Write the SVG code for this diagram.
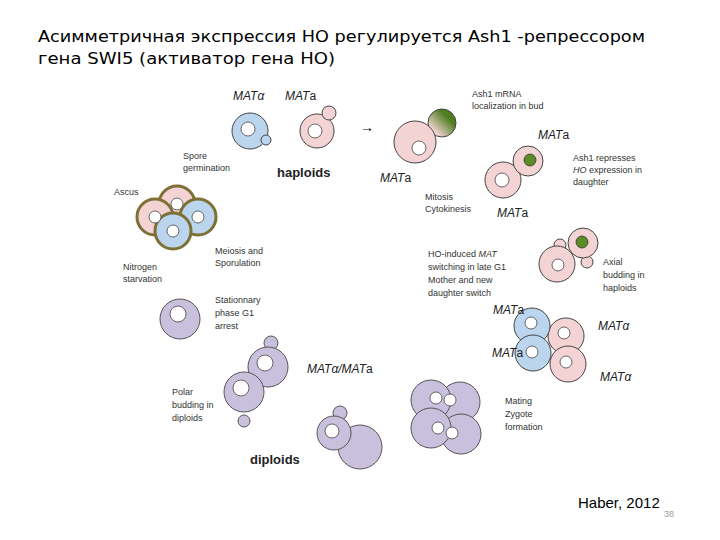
<svg xmlns="http://www.w3.org/2000/svg" width="720" height="540" viewBox="0 0 720 540">
<defs>
<style>
.t{font-family:"DejaVu Sans",Verdana,sans-serif;font-size:15px;fill:#000}
.s{font-family:"Liberation Sans",sans-serif;font-size:9px;fill:#333}
.m{font-family:"Liberation Sans",sans-serif;font-size:12px;font-style:italic;fill:#222}
.b{font-family:"Liberation Sans",sans-serif;font-size:13px;font-weight:bold;fill:#222}
.bl{fill:#bcd5ee;stroke:#444;stroke-width:1}
.pk{fill:#f4d3d5;stroke:#444;stroke-width:1}
.lv{fill:#c8c0dd;stroke:#555;stroke-width:1}
.nu{fill:#fff;stroke:#444;stroke-width:0.8}
.gn{fill:#5b8c25;stroke:#333;stroke-width:0.8}
.as{stroke:#7d7035;stroke-width:3}
</style>
<linearGradient id="g" x1="1" y1="0" x2="0" y2="1"><stop offset="0.3" stop-color="#4f7f1e"/><stop offset="0.8" stop-color="#f4d3d5"/></linearGradient>
</defs>
<rect width="720" height="540" fill="#fff"/>
<text class="t" x="38" y="42" textLength="607" lengthAdjust="spacingAndGlyphs">Асимметричная экспрессия HO регулируется Ash1 -репрессором</text>
<text class="t" x="38" y="64" textLength="297" lengthAdjust="spacingAndGlyphs">гена SWI5 (активатор гена HO)</text>

<g id="haploids">
<circle class="bl" cx="250" cy="131" r="18"/><circle class="nu" cx="248" cy="129" r="7"/><circle class="bl" cx="266" cy="140" r="5"/>
<circle class="pk" cx="317" cy="131" r="17"/><circle class="nu" cx="315" cy="131" r="7"/><circle class="pk" cx="329" cy="113" r="7"/>
<text class="m" x="233" y="100">MATα</text><text class="m" x="285" y="100">MAT<tspan font-style="normal">a</tspan></text>
<text class="s" x="183" y="159">Spore</text><text class="s" x="183" y="171">germination</text>
<text class="b" x="277" y="177">haploids</text>
<text x="360" y="132" font-family="Liberation Sans,sans-serif" font-size="14">→</text>
</g>

<g id="ascus">
<circle class="pk as" cx="177" cy="204" r="18"/>
<circle class="pk as" cx="155" cy="217" r="18"/>
<circle class="bl as" cx="198" cy="217" r="18"/>
<circle class="bl as" cx="173" cy="231" r="18"/>
<circle class="nu" cx="177" cy="204" r="6"/><circle class="nu" cx="155" cy="217" r="6"/><circle class="nu" cx="198" cy="217" r="6"/><circle class="nu" cx="173" cy="231" r="6"/>
<text class="s" x="114" y="195">Ascus</text>
<text class="s" x="215" y="254">Meiosis and</text><text class="s" x="215" y="266">Sporulation</text>
<text class="s" x="123" y="270">Nitrogen</text><text class="s" x="123" y="282">starvation</text>
</g>

<g id="stationary">
<circle class="lv" cx="180" cy="319" r="20"/><circle class="nu" cx="178" cy="314" r="8"/>
<text class="s" x="215" y="303">Stationnary</text><text class="s" x="215" y="316">phase G1</text><text class="s" x="215" y="329">arrest</text>
</g>

<g id="polar">
<circle class="lv" cx="271" cy="343" r="7"/>
<circle class="lv" cx="244" cy="421" r="6"/>
<circle class="lv" cx="268" cy="367" r="20"/><circle class="nu" cx="265" cy="363" r="8"/>
<circle class="lv" cx="244" cy="392" r="20"/><circle class="nu" cx="241" cy="388" r="8"/>
<text class="m" x="307" y="373">MATα/MAT<tspan font-style="normal">a</tspan></text>
<text class="s" x="172" y="395">Polar</text><text class="s" x="172" y="408">budding in</text><text class="s" x="172" y="421">diploids</text>
</g>

<g id="diploids">
<circle class="lv" cx="340" cy="413" r="7"/>
<circle class="lv" cx="360" cy="447" r="22"/>
<circle class="lv" cx="334" cy="433" r="17"/><circle class="nu" cx="332" cy="431" r="7"/>
<text class="b" x="250" y="464">diploids</text>
</g>

<g id="zygotes">
<circle class="lv" cx="460" cy="402" r="20"/><circle class="lv" cx="431" cy="400" r="20"/>
<circle class="nu" cx="436" cy="398" r="6"/><circle class="nu" cx="450" cy="400" r="6"/>
<circle class="lv" cx="461" cy="434" r="20"/><circle class="lv" cx="431" cy="428" r="20"/>
<circle class="nu" cx="438" cy="428" r="6"/><circle class="nu" cx="452" cy="433" r="6"/>
<text class="s" x="505" y="404">Mating</text><text class="s" x="505" y="417">Zygote</text><text class="s" x="505" y="430">formation</text>
</g>

<g id="mating">
<circle class="pk" cx="566" cy="336" r="18"/><circle class="nu" cx="564" cy="333" r="6"/>
<circle class="pk" cx="568" cy="364" r="18"/><circle class="nu" cx="566" cy="362" r="6"/>
<circle class="bl" cx="532" cy="326" r="18"/><circle class="nu" cx="531" cy="323" r="6"/>
<circle class="bl" cx="533" cy="353" r="18"/><circle class="nu" cx="532" cy="352" r="6"/>
<text class="m" x="493" y="314">MAT<tspan font-style="normal">a</tspan></text>
<text class="m" x="598" y="330">MATα</text>
<text class="m" x="492" y="357">MAT<tspan font-style="normal">a</tspan></text>
<text class="m" x="600" y="381">MATα</text>
</g>

<g id="mitosis">
<circle cx="442" cy="123" r="14" fill="url(#g)" stroke="#444"/>
<circle class="pk" cx="415" cy="142" r="21"/><circle class="nu" cx="419" cy="148" r="7"/>
<text class="s" x="472" y="97">Ash1 mRNA</text><text class="s" x="472" y="109">localization in bud</text>
<text class="m" x="380" y="182">MAT<tspan font-style="normal">a</tspan></text>
<text class="s" x="425" y="200">Mitosis</text><text class="s" x="425" y="212">Cytokinesis</text>
</g>

<g id="repress">
<circle class="pk" cx="503" cy="180" r="18"/><circle class="nu" cx="502" cy="180" r="7"/>
<circle class="pk" cx="528" cy="161" r="15"/><circle class="gn" cx="530" cy="160" r="6"/>
<text class="m" x="538" y="139">MAT<tspan font-style="normal">a</tspan></text>
<text class="m" x="497" y="217">MAT<tspan font-style="normal">a</tspan></text>
<text class="s" x="573" y="161">Ash1 represses</text><text class="s" x="573" y="173"><tspan font-style="italic">HO</tspan> expression in</text><text class="s" x="573" y="185">daughter</text>
</g>

<g id="axial">
<circle class="pk" cx="560" cy="245" r="6"/>
<circle class="pk" cx="587" cy="262" r="6"/>
<circle class="pk" cx="583" cy="243" r="15"/><circle class="gn" cx="582" cy="242" r="6"/>
<circle class="pk" cx="557" cy="264" r="18"/><circle class="nu" cx="558" cy="265" r="6"/>
<text class="s" x="428" y="257">HO-induced <tspan font-style="italic">MAT</tspan></text><text class="s" x="428" y="270">switching in late G1</text><text class="s" x="428" y="283">Mother and new</text><text class="s" x="428" y="296">daughter switch</text>
<text class="s" x="603" y="265">Axial</text><text class="s" x="603" y="278">budding in</text><text class="s" x="603" y="291">haploids</text>
</g>

<text x="578" y="508" font-family="Liberation Sans,sans-serif" font-size="15">Haber, 2012</text>
<text x="664" y="517" font-family="Liberation Sans,sans-serif" font-size="9" fill="#999">38</text>
</svg>
